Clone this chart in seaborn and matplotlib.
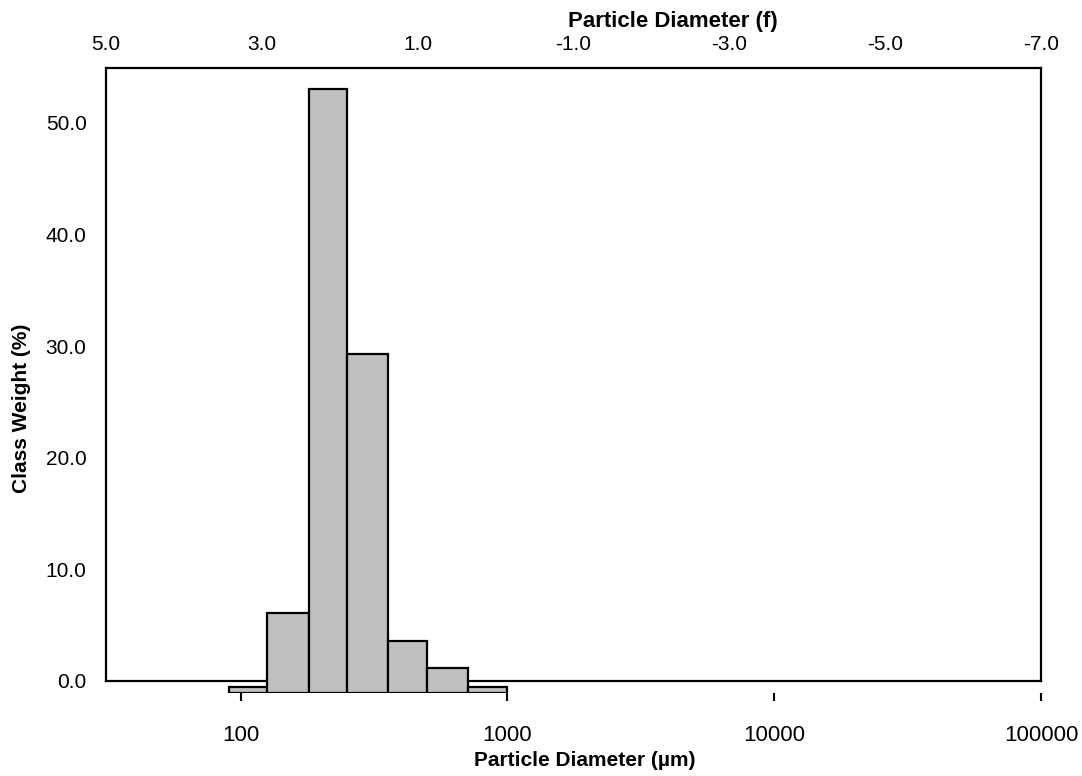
"""
Grain size distribution: class weight per sieve class (log scale in µm, phi on top).
"""

import matplotlib
matplotlib.use("Agg")
import matplotlib.pyplot as plt
import seaborn as sns
import numpy as np

# sieve class edges (µm) and class weights (%)
class_edges = [90, 125, 180, 250, 355, 500, 710, 1000]
class_weight = [0.5, 7.2, 54.1, 30.4, 4.7, 2.2, 0.5]

um_ticks = [100, 1000, 10000, 100000]
phi_ticks = [5.0, 3.0, 1.0, -1.0, -3.0, -5.0, -7.0]
weight_ticks = [0.0, 10.0, 20.0, 30.0, 40.0, 50.0]

sns.set_style("white")
plt.rcParams['font.family'] = ['Liberation Sans', 'DejaVu Sans']
plt.rcParams.update({"text.color": "black", "xtick.color": "black",
                     "ytick.color": "black", "axes.labelcolor": "black"})

W, H = 1082, 776
fig = plt.figure(figsize=(W / 100, H / 100), dpi=100)
fig.patch.set_facecolor("white")

left, right = 106, 1041
frame_top, frame_bottom, bar_base = 68, 681, 693
px_per_unit = 11.16

# frame axes: y scale and phi scale on top
ax_frame = fig.add_axes([left / W, (H - frame_bottom) / H, (right - left) / W,
                         (frame_bottom - frame_top) / H])
ax_frame.set_ylim(0, (frame_bottom - frame_top) / px_per_unit)
ax_frame.set_xlim(phi_ticks[0], phi_ticks[-1])
ax_frame.set_yticks(weight_ticks)
ax_frame.set_yticklabels([f"{v:.1f}" for v in weight_ticks])
ax_frame.set_xticks(phi_ticks)
ax_frame.set_xticklabels([f"{v:.1f}" for v in phi_ticks])
ax_frame.xaxis.tick_top()
ax_frame.tick_params(axis="x", length=0, labelsize=15, pad=10)
ax_frame.tick_params(axis="y", length=0, labelsize=15, pad=14)
for s in ax_frame.spines.values():
    s.set_visible(True)
    s.set_color("black")
    s.set_linewidth(1.6)

# bar axes: log particle diameter, baseline slightly below the frame
ax = fig.add_axes([left / W, (H - bar_base) / H, (right - left) / W,
                   (bar_base - frame_top) / H])
ax.patch.set_alpha(0)
mids = np.sqrt(np.array(class_edges[:-1]) * np.array(class_edges[1:]))
sns.histplot(x=mids, weights=class_weight, bins=class_edges, ax=ax,
             color="#c0c0c0", alpha=1, edgecolor="black", linewidth=1.6)
ax.set_xscale("log")
ax.set_xlim(31.25, 100000)
ax.set_ylim(0, (bar_base - frame_top) / px_per_unit)
ax.set_xticks(um_ticks)
ax.set_xticklabels([str(t) for t in um_ticks])
ax.minorticks_off()
ax.set_yticks([])
ax.set_xlabel("")
ax.set_ylabel("")
ax.tick_params(axis="x", bottom=True, direction="out", length=6, width=1.5,
               color="black", labelsize=16, pad=17)
for s in ax.spines.values():
    s.set_visible(False)

fig.text(585 / W, 1 - 760 / H, "Particle Diameter (µm)", ha="center", va="center",
         fontsize=15, fontweight="bold")
fig.text(673 / W, 1 - 21 / H, "Particle Diameter (f)", ha="center", va="center",
         fontsize=16, fontweight="bold")
fig.text(22 / W, 1 - 408 / H, "Class Weight (%)", ha="center", va="center",
         rotation=90, fontsize=15, fontweight="bold")

fig.savefig("out.png", dpi=100, facecolor="white")
